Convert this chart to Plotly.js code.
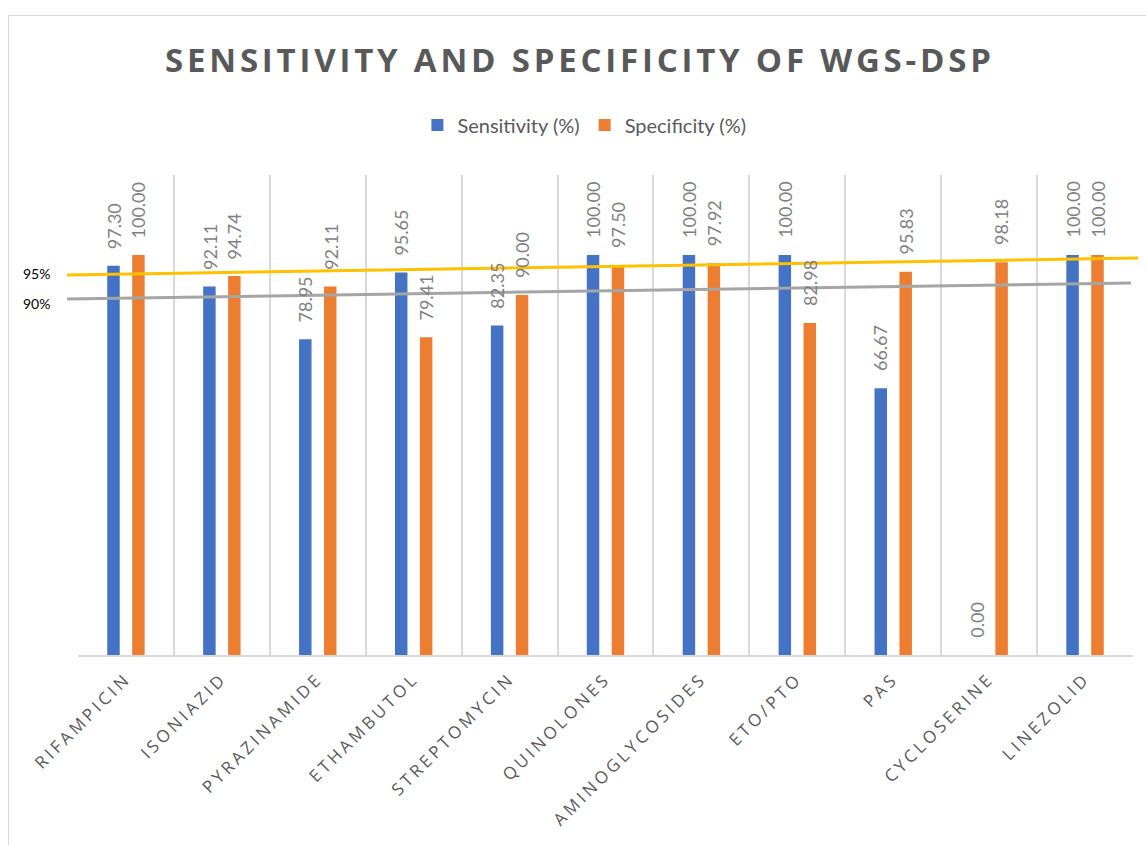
<!DOCTYPE html>
<html>
<head>
<meta charset="utf-8">
<script src="https://cdn.plot.ly/plotly-3.0.1.min.js"></script>
<style>
  html, body { margin: 0; padding: 0; overflow: hidden; background: #fff; }
  #chart { width: 1146px; height: 845px; }
  #frame { position: absolute; left: 8px; top: 15px; width: 1200px; height: 900px;
           border: 1px solid #d9d9d9; pointer-events: none; }
  .gtitle { letter-spacing: 3.8px; }
  .xtick text { letter-spacing: 3.4px; }
</style>
</head>
<body>
<div id="chart"></div>
<div id="frame"></div>
<script>
const categories = ["RIFAMPICIN", "ISONIAZID", "PYRAZINAMIDE", "ETHAMBUTOL", "STREPTOMYCIN",
  "QUINOLONES", "AMINOGLYCOSIDES", "ETO/PTO", "PAS", "CYCLOSERINE", "LINEZOLID"];
const sensitivity = [97.30, 92.11, 78.95, 95.65, 82.35, 100.00, 100.00, 100.00, 66.67, 0.00, 100.00];
const specificity = [100.00, 94.74, 92.11, 79.41, 90.00, 97.50, 97.92, 82.98, 95.83, 98.18, 100.00];
const refLine95 = [95, 99.25];
const refLine90 = [89, 93];

const blue = "#4472C4", orange = "#ED7D31";
const labelFont = { family: "Lato, 'Open Sans', sans-serif", size: 18, color: "#7f7f7f" };

const traces = [
  { type: "bar", name: "Sensitivity (%)", x: categories, y: sensitivity,
    marker: { color: blue }, hoverinfo: "x+y" },
  { type: "bar", name: "Specificity (%)", x: categories, y: specificity,
    marker: { color: orange }, hoverinfo: "x+y" }
];

const annotations = [];
categories.forEach((c, i) => {
  [[sensitivity[i], -12.5], [specificity[i], 12.5]].forEach(([v, dx]) => {
    annotations.push({
      x: c, y: v, xref: "x", yref: "y", xshift: dx, yshift: 15,
      text: v.toFixed(2), textangle: -90, showarrow: false,
      xanchor: "center", yanchor: "bottom", font: labelFont
    });
  });
});
annotations.push({ x: -0.0246, y: 0.795, xref: "paper", yref: "paper", text: "95%",
  showarrow: false, xanchor: "right", yanchor: "middle",
  font: { family: "Lato, sans-serif", size: 14, color: "#000" } });
annotations.push({ x: -0.0246, y: 0.733, xref: "paper", yref: "paper", text: "90%",
  showarrow: false, xanchor: "right", yanchor: "middle",
  font: { family: "Lato, sans-serif", size: 14, color: "#000" } });

const shapes = [
  { type: "line", xref: "paper", yref: "y", x0: -0.0104, x1: 0.998,
    y0: refLine90[0], y1: refLine90[1], line: { color: "#A5A5A5", width: 3 } },
  { type: "line", xref: "paper", yref: "y", x0: -0.0104, x1: 1.0047,
    y0: refLine95[0], y1: refLine95[1], line: { color: "#FFC000", width: 3 } }
];

const layout = {
  width: 1146, height: 845,
  margin: { l: 78, r: 13, t: 175, b: 190 },
  paper_bgcolor: "#fff", plot_bgcolor: "#fff",
  title: { text: "<b>SENSITIVITY AND SPECIFICITY OF WGS-DSP</b>",
    font: { family: "'Open Sans', sans-serif", size: 33, color: "#595959" },
    x: 0.506, xanchor: "center", y: 0.928, yanchor: "middle", xref: "container" },
  barmode: "group", bargap: 0.48, bargroupgap: 0.5,
  showlegend: true,
  legend: { orientation: "h", x: 0.48, xanchor: "center", y: 1.104, yanchor: "middle",
    font: { family: "Lato, sans-serif", size: 20, color: "#595959" },
    itemwidth: 30, traceorder: "normal" },
  xaxis: { type: "category", tickson: "boundaries", showgrid: true, gridcolor: "#d9d9d9",
    gridwidth: 2, showline: true, linecolor: "#d9d9d9", linewidth: 2, ticks: "",
    tickangle: -45, ticklabelstandoff: 5,
    tickfont: { family: "'Open Sans', sans-serif", size: 17, color: "#595959" },
    automargin: false },
  yaxis: { range: [0, 120], visible: false, showgrid: false, zeroline: false, fixedrange: true },
  annotations: annotations,
  shapes: shapes
};

Plotly.newPlot("chart", traces, layout, { displayModeBar: false, staticPlot: true });
</script>
</body>
</html>
